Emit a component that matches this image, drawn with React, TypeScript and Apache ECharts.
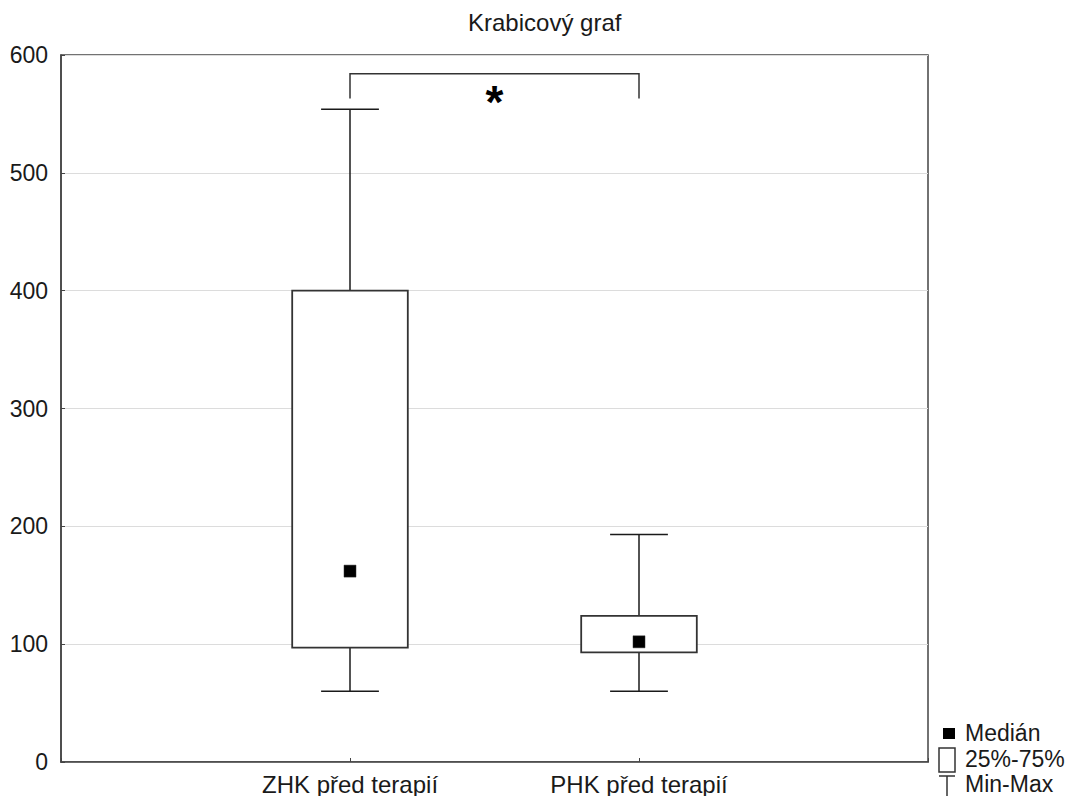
import React, { useEffect, useRef } from "react";
import * as echarts from "echarts";

const categories = ["ZHK před terapií", "PHK před terapií"];
const minValues = [60, 60];
const q1Values = [97, 93];
const medianValues = [162, 102];
const q3Values = [400, 124];
const maxValues = [554, 193];
const bracketLevels = [563, 584];
const bracketLabel = "*";
const titleText = "Krabicový graf";
const legendLabels = ["Medián", "25%-75%", "Min-Max"];

const FONT = "'Liberation Sans', Arial, sans-serif";
const TEXT = "#1a1a1a";

export default function App() {
  const ref = useRef<HTMLDivElement>(null);
  useEffect(() => {
    if (!ref.current) return;
    const chart = echarts.init(ref.current, undefined, { renderer: "svg" });
    const boxData = categories.map((_, i) => [
      i + 1,
      minValues[i],
      q1Values[i],
      medianValues[i],
      q3Values[i],
      maxValues[i],
    ]);
    const option: any = {
      animation: false,
      backgroundColor: "#fff",
      textStyle: { fontFamily: FONT },
      title: {
        text: titleText,
        left: 463,
        top: 5,
        textStyle: { fontFamily: FONT, fontSize: 24, fontWeight: "normal", color: TEXT },
      },
      grid: {
        left: 61,
        right: 141,
        top: 55,
        bottom: 34,
        show: true,
        borderColor: "#444",
        borderWidth: 1.5,
        backgroundColor: "transparent",
      },
      xAxis: {
        type: "value",
        min: 0,
        max: 3,
        interval: 1,
        axisLine: { show: true, lineStyle: { color: "#444", width: 1.5 } },
        axisTick: { show: true, inside: true, length: 4, lineStyle: { color: "#444" } },
        splitLine: { show: false },
        axisLabel: {
          margin: 10,
          fontFamily: FONT,
          fontSize: 24,
          color: TEXT,
          formatter: (v: number) => categories[v - 1] ?? "",
        },
      },
      yAxis: {
        type: "value",
        min: 0,
        max: 600,
        interval: 100,
        axisLine: { show: true, lineStyle: { color: "#444", width: 1.5 } },
        axisTick: { show: true, inside: true, length: 4, lineStyle: { color: "#444" } },
        splitLine: { show: true, lineStyle: { color: "#dcdcdc", width: 1 } },
        axisLabel: { margin: 13, fontFamily: FONT, fontSize: 23, color: TEXT },
      },
      series: [
        {
          type: "custom",
          data: boxData,
          encode: { x: 0, y: [1, 2, 3, 4, 5] },
          renderItem: (_params: any, api: any) => {
            const x = api.value(0);
            const [cx, yMin] = api.coord([x, api.value(1)]);
            const yQ1 = api.coord([x, api.value(2)])[1];
            const yMed = api.coord([x, api.value(3)])[1];
            const yQ3 = api.coord([x, api.value(4)])[1];
            const yMax = api.coord([x, api.value(5)])[1];
            const boxW = api.size([0.4, 0])[0];
            const capW = api.size([0.2, 0])[0];
            const ls = { stroke: "#1a1a1a", lineWidth: 1.5 };
            return {
              type: "group",
              children: [
                { type: "line", shape: { x1: cx, y1: yMax, x2: cx, y2: yQ3 }, style: ls },
                { type: "line", shape: { x1: cx, y1: yQ1, x2: cx, y2: yMin }, style: ls },
                { type: "line", shape: { x1: cx - capW / 2, y1: yMax, x2: cx + capW / 2, y2: yMax }, style: ls },
                { type: "line", shape: { x1: cx - capW / 2, y1: yMin, x2: cx + capW / 2, y2: yMin }, style: ls },
                {
                  type: "rect",
                  shape: { x: cx - boxW / 2, y: yQ3, width: boxW, height: yQ1 - yQ3 },
                  style: { fill: "#fff", stroke: "#333", lineWidth: 1.8 },
                },
                {
                  type: "rect",
                  shape: { x: cx - 6, y: yMed - 6, width: 12, height: 12 },
                  style: { fill: "#000", stroke: "#333", lineWidth: 0.5 },
                },
              ],
            };
          },
          z: 3,
        },
        {
          type: "custom",
          data: [[1, 2, bracketLevels[0], bracketLevels[1]]],
          encode: { x: [0, 1], y: [2, 3] },
          renderItem: (_params: any, api: any) => {
            const p1 = api.coord([api.value(0), api.value(2)]);
            const p2 = api.coord([api.value(0), api.value(3)]);
            const p3 = api.coord([api.value(1), api.value(3)]);
            const p4 = api.coord([api.value(1), api.value(2)]);
            const mid = api.coord([(api.value(0) + api.value(1)) / 2, api.value(2)]);
            return {
              type: "group",
              children: [
                {
                  type: "polyline",
                  shape: { points: [p1, p2, p3, p4] },
                  style: { stroke: "#333", lineWidth: 1.5, fill: "none" },
                },
                {
                  type: "text",
                  x: mid[0],
                  y: mid[1] + 3,
                  style: {
                    text: bracketLabel,
                    font: `bold 46px ${FONT}`,
                    fill: "#000",
                    align: "center",
                    verticalAlign: "middle",
                  },
                },
              ],
            };
          },
          z: 4,
        },
      ],
      graphic: [
        { type: "rect", shape: { x: 943, y: 728, width: 12, height: 11 }, style: { fill: "#000" } },
        { type: "rect", shape: { x: 939, y: 748, width: 16, height: 24 }, style: { fill: "#fff", stroke: "#333", lineWidth: 1.5 } },
        { type: "line", shape: { x1: 939, y1: 776, x2: 955, y2: 776 }, style: { stroke: "#333", lineWidth: 1.5 } },
        { type: "line", shape: { x1: 947, y1: 776, x2: 947, y2: 796 }, style: { stroke: "#333", lineWidth: 1.5 } },
        ...legendLabels.map((t, i) => ({
          type: "text",
          x: 965,
          y: [733, 759, 784][i],
          style: { text: t, font: `23px ${FONT}`, fill: TEXT, verticalAlign: "middle" },
        })),
      ],
    };
    chart.setOption(option);
    return () => chart.dispose();
  }, []);
  return (
    <div
      ref={ref}
      style={{ position: "fixed", left: 0, top: 0, width: 1069, height: 796, background: "#fff" }}
    />
  );
}
